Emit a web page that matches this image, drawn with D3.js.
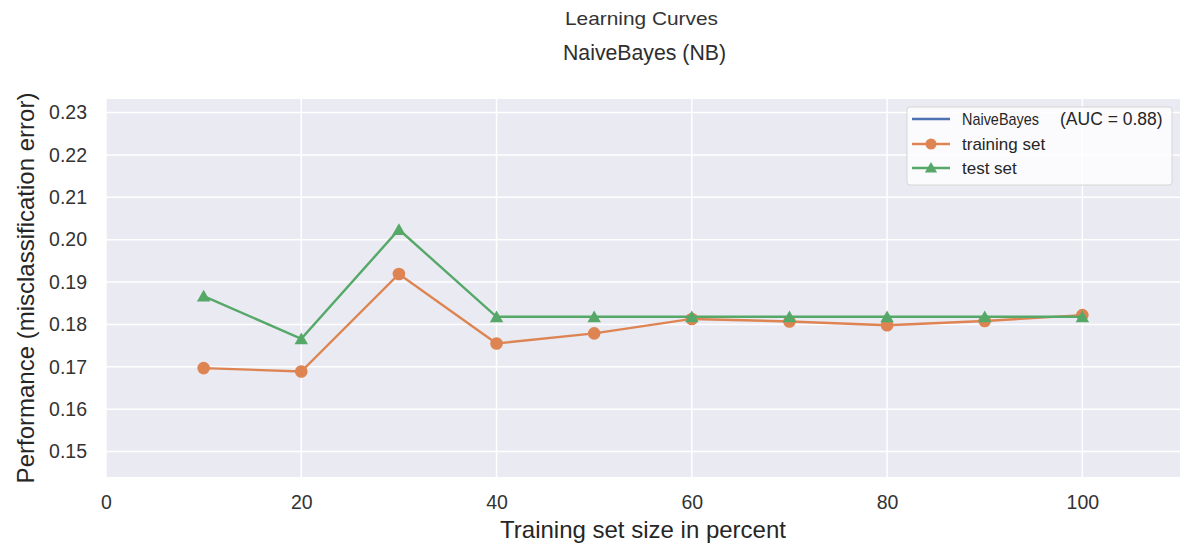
<!DOCTYPE html>
<html>
<head>
<meta charset="utf-8">
<script src="https://cdn.jsdelivr.net/npm/d3@7"></script>
<style>
  html, body { margin: 0; padding: 0; background: #ffffff; }
  svg { display: block; font-family: "Liberation Sans", Arial, sans-serif; }
</style>
</head>
<body>
<svg id="chart" width="1180" height="552"></svg>
<script>
// Learning curve data: training set size (percent) vs misclassification error
const sizes = [10, 20, 30, 40, 50, 60, 70, 80, 90, 100];
const trainingError = [0.1697, 0.1689, 0.1919, 0.1755, 0.1779, 0.1813, 0.1807, 0.1798, 0.1808, 0.1822];
const testError = [0.1867, 0.1766, 0.2024, 0.1818, 0.1818, 0.1818, 0.1818, 0.1818, 0.1818, 0.1818];
const xTicks = [0, 20, 40, 60, 80, 100];
const yTicks = [0.15, 0.16, 0.17, 0.18, 0.19, 0.20, 0.21, 0.22, 0.23];
const legendLabels = ["NaiveBayes", "training set", "test set"];
const aucLabel = "(AUC = 0.88)";

const colors = { model: "#4C72B0", train: "#DD8452", test: "#55A868" };

const svg = d3.select("#chart");
const plot = { left: 106, right: 1180, top: 99, bottom: 477 };

const x = d3.scaleLinear().domain([0, 110]).range([plot.left, plot.right]);
const y = d3.scaleLinear().domain([0.1440, 0.2332]).range([plot.bottom, plot.top]);

// Plot background
svg.append("rect")
  .attr("x", plot.left).attr("y", plot.top)
  .attr("width", plot.right - plot.left).attr("height", plot.bottom - plot.top)
  .attr("fill", "#EAEAF2");

// Grid lines
const grid = svg.append("g");
grid.selectAll("line.gx").data(xTicks).join("line")
  .attr("x1", d => x(d)).attr("x2", d => x(d))
  .attr("y1", plot.top).attr("y2", plot.bottom)
  .attr("stroke", "#ffffff").attr("stroke-width", 1.5);
grid.selectAll("line.gy").data(yTicks).join("line")
  .attr("x1", plot.left).attr("x2", plot.right)
  .attr("y1", d => y(d)).attr("y2", d => y(d))
  .attr("stroke", "#ffffff").attr("stroke-width", 1.5);

// Axes (labels only, seaborn style without ticks or spines)
const xAxis = svg.append("g")
  .attr("transform", `translate(0,${plot.bottom})`)
  .call(d3.axisBottom(x).tickValues(xTicks).tickSize(0).tickPadding(0).tickFormat(d3.format("d")));
xAxis.select(".domain").remove();
xAxis.selectAll("text").attr("font-size", 19.5).attr("fill", "#333333")
  .attr("dy", null).attr("y", 32)
  .attr("font-family", "'Liberation Sans', Arial, sans-serif");

const yAxis = svg.append("g")
  .attr("transform", `translate(${plot.left},0)`)
  .call(d3.axisLeft(y).tickValues(yTicks).tickSize(0).tickPadding(19).tickFormat(d3.format(".2f")));
yAxis.select(".domain").remove();
yAxis.selectAll("text").attr("font-size", 19.5).attr("fill", "#333333")
  .attr("font-family", "'Liberation Sans', Arial, sans-serif");

// Axis titles
svg.append("text")
  .attr("x", (plot.left + plot.right) / 2).attr("y", 538)
  .attr("text-anchor", "middle").attr("font-size", 24).attr("fill", "#262626")
  .text("Training set size in percent");

svg.append("text")
  .attr("transform", `translate(34,${(plot.top + plot.bottom) / 2}) rotate(-90)`)
  .attr("text-anchor", "middle").attr("font-size", 24).attr("fill", "#262626")
  .text("Performance (misclassification error)");

// Titles
svg.append("text")
  .attr("x", 641.5).attr("y", 25)
  .attr("text-anchor", "middle").attr("font-size", 18.5).attr("fill", "#333333")
  .attr("textLength", 153).attr("lengthAdjust", "spacingAndGlyphs")
  .text("Learning Curves");
svg.append("text")
  .attr("x", 644.5).attr("y", 60)
  .attr("text-anchor", "middle").attr("font-size", 22.5).attr("fill", "#2e2e2e")
  .attr("textLength", 163).attr("lengthAdjust", "spacingAndGlyphs")
  .text("NaiveBayes (NB)");

// Series lines and markers
const line = d3.line().x(d => x(d[0])).y(d => y(d[1]));
const trainPts = sizes.map((s, i) => [s, trainingError[i]]);
const testPts = sizes.map((s, i) => [s, testError[i]]);

svg.append("path").datum(trainPts)
  .attr("d", line).attr("fill", "none")
  .attr("stroke", colors.train).attr("stroke-width", 2.4);
svg.append("g").selectAll("circle").data(trainPts).join("circle")
  .attr("cx", d => x(d[0])).attr("cy", d => y(d[1])).attr("r", 6.3)
  .attr("fill", colors.train);

svg.append("path").datum(testPts)
  .attr("d", line).attr("fill", "none")
  .attr("stroke", colors.test).attr("stroke-width", 2.4);
const tri = d3.symbol().type(d3.symbolTriangle).size(78);
svg.append("g").selectAll("path").data(testPts).join("path")
  .attr("transform", d => `translate(${x(d[0])},${y(d[1]) + 1.5})`)
  .attr("d", tri).attr("fill", colors.test);

// Legend
const lg = svg.append("g").attr("transform", "translate(907,107)");
lg.append("rect")
  .attr("width", 265).attr("height", 78).attr("rx", 3)
  .attr("fill", "#ffffff").attr("fill-opacity", 0.8)
  .attr("stroke", "#d6d6d6").attr("stroke-width", 1);

const rows = [
  { label: legendLabels[0], color: colors.model, marker: null },
  { label: legendLabels[1], color: colors.train, marker: "circle" },
  { label: legendLabels[2], color: colors.test, marker: "triangle" }
];
const rowY = [12, 37, 61];
rows.forEach((r, i) => {
  const g = lg.append("g").attr("transform", `translate(0,${rowY[i]})`);
  g.append("line").attr("x1", 5).attr("x2", 43).attr("y1", 0).attr("y2", 0)
    .attr("stroke", r.color).attr("stroke-width", 2.4);
  if (r.marker === "circle") {
    g.append("circle").attr("cx", 24).attr("cy", 0).attr("r", 5.5).attr("fill", r.color);
  } else if (r.marker === "triangle") {
    g.append("path").attr("transform", "translate(24,1)")
      .attr("d", d3.symbol().type(d3.symbolTriangle).size(65)).attr("fill", r.color);
  }
  const t = g.append("text").attr("x", 55).attr("y", 6)
    .attr("font-size", 17).attr("fill", "#262626");
  if (i === 0) {
    t.attr("textLength", 77).attr("lengthAdjust", "spacingAndGlyphs").text(r.label);
    g.append("text").attr("x", 153).attr("y", 6)
      .attr("font-size", 17.5).attr("fill", "#262626").text(aucLabel);
  } else {
    t.text(r.label);
  }
});
</script>
</body>
</html>
